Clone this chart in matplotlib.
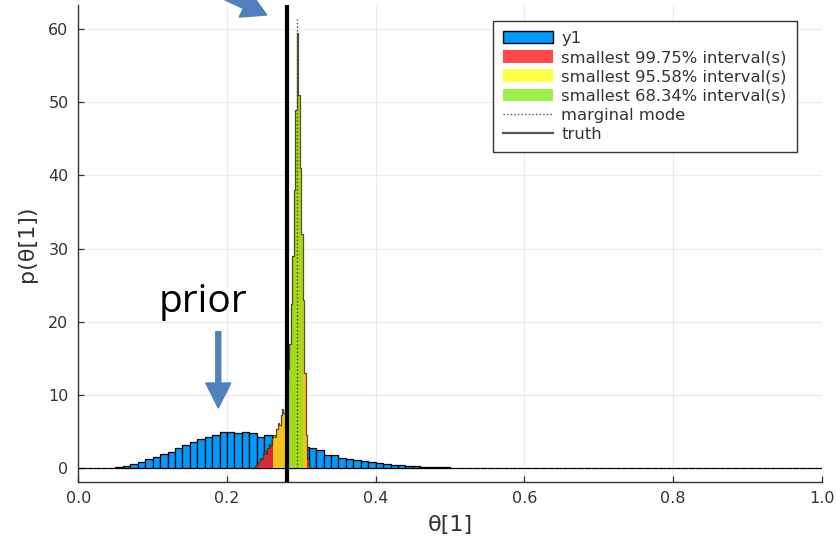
import matplotlib
matplotlib.use("Agg")
import matplotlib.pyplot as plt
import numpy as np
from matplotlib.patches import Patch, FancyArrow
from matplotlib.lines import Line2D
from matplotlib.transforms import IdentityTransform


# ==============================================
# prior histogram, bins of 0.01 from 0.0 to 1.0
prior_bin_width = 0.01
prior_heights = [
    0.0, 0.0, 0.0, 0.02, 0.06, 0.2, 0.3, 0.55, 0.86, 1.2,
    1.55, 1.9, 2.2, 2.7, 3.1, 3.6, 3.95, 4.2, 4.6, 5.0,
    4.95, 4.85, 5.0, 4.8, 4.3, 4.6, 3.8, 3.4, 3.1, 2.9,
    2.9, 2.8, 2.45, 1.8, 1.8, 1.45, 1.3, 1.15, 0.95, 0.85,
    0.7, 0.6, 0.45, 0.4, 0.3, 0.25, 0.2, 0.16, 0.12, 0.1,
    0.08, 0.05, 0.03, 0.02, 0.0, 0.0, 0.0, 0.0, 0.0, 0.0,
    0.0, 0.0, 0.0, 0.0, 0.0, 0.0, 0.0, 0.0, 0.0, 0.0,
    0.0, 0.0, 0.0, 0.0, 0.0, 0.0, 0.0, 0.0, 0.0, 0.0,
    0.0, 0.0, 0.0, 0.0, 0.0, 0.0, 0.0, 0.0, 0.0, 0.0,
    0.0, 0.0, 0.0, 0.0, 0.0, 0.0, 0.0, 0.0, 0.0, 0.0,
]

# posterior histogram, fine bins of 0.002 starting at 0.238
post_start = 0.238
post_bin_width = 0.002
post_heights = [
    0.3, 0.6, 0.9, 1.4, 1.2, 1.9, 2.3, 2.0, 2.8, 3.3,
    3.0, 4.1, 4.6, 4.3, 5.4, 6.2, 5.9, 7.3, 8.1, 7.6,
    9.6, 11.2, 13.5, 17.0, 22.5, 29.0, 38.0, 49.0, 59.5, 51.0,
    41.0, 32.0, 23.0, 13.0, 4.5, 1.2, 0.3,
]

# smallest intervals (lower, upper)
interval_68 = (0.284, 0.302)
interval_95 = (0.262, 0.308)

mode_pos, mode_height = 0.2938, 61.4
truth_pos = 0.2807

legend_labels = ["y1", "smallest 99.75% interval(s)", "smallest 95.58% interval(s)",
                 "smallest 68.34% interval(s)", "marginal mode", "truth"]

# ==============================================
blue = "#009afa"
red_fill, yellow_fill, green_fill = "#dc2a35", "#f2c31c", "#a4d91c"
red_leg, yellow_leg, green_leg = "#ff4848", "#ffff48", "#9cef48"
arrow_blue = "#4f81bd"
text_col = "#333333"

fig = plt.figure(figsize=(8.36, 5.4), dpi=100)
ax = fig.add_axes([78.3 / 836, 58.3 / 540, 743.4 / 836, 476.7 / 540])

prior_edges = np.arange(len(prior_heights)) * prior_bin_width
ax.bar(prior_edges, prior_heights, width=prior_bin_width, align="edge",
       color=blue, edgecolor="black", linewidth=0.9, zorder=2)

post_edges = post_start + np.arange(len(post_heights) + 1) * post_bin_width
post_left = post_edges[:-1]
post_colors = []
for x in post_left + post_bin_width / 2:
    if interval_68[0] <= x < interval_68[1]:
        post_colors.append(green_fill)
    elif interval_95[0] <= x < interval_95[1]:
        post_colors.append(yellow_fill)
    else:
        post_colors.append(red_fill)
ax.bar(post_left, post_heights, width=post_bin_width, align="edge",
       color=post_colors, linewidth=0, zorder=3)
ax.stairs(post_heights, post_edges, color="#3b3410", linewidth=0.9, alpha=0.85, zorder=4)

ax.plot([mode_pos, mode_pos], [0, mode_height], linestyle=(0, (1, 1.6)),
        color="#444444", linewidth=1.0, zorder=5)
ax.axvline(truth_pos, color="black", linewidth=3.0, zorder=6)

ax.set_xlim(0, 1)
ax.set_ylim(-1.85, 63.3)
ax.set_xticks(np.arange(0, 1.01, 0.2))
ax.set_xticklabels([f"{v:.1f}" for v in np.arange(0, 1.01, 0.2)])
ax.set_yticks(np.arange(0, 61, 10))
ax.grid(True, color="#ebebeb", linewidth=0.8, zorder=0)
ax.set_axisbelow(True)

for side in ["top", "right"]:
    ax.spines[side].set_visible(False)
for side in ["left", "bottom"]:
    ax.spines[side].set_color("#333333")
    ax.spines[side].set_linewidth(1.0)

ax.tick_params(direction="in", length=4, width=0.9, color="#333333",
               labelsize=11.5, labelcolor=text_col, pad=7)
ax.set_xlabel("θ[1]", fontsize=16, color=text_col, labelpad=6)
ax.set_ylabel("p(θ[1])", fontsize=16, color=text_col, labelpad=8)

handles = [
    Patch(facecolor=blue, edgecolor="black", linewidth=1.0),
    Patch(facecolor=red_leg, edgecolor="none"),
    Patch(facecolor=yellow_leg, edgecolor="none"),
    Patch(facecolor=green_leg, edgecolor="none"),
    Line2D([], [], linestyle=(0, (1, 1.6)), color="#555555", linewidth=1.0),
    Line2D([], [], color="#555555", linewidth=1.6),
]
leg = ax.legend(handles, legend_labels, loc="upper right", bbox_to_anchor=(0.9664, 0.9664),
                borderaxespad=0, fancybox=False, framealpha=1, edgecolor="#333333",
                fontsize=11.8, labelcolor=text_col, handlelength=3.05, handleheight=0.8,
                labelspacing=0.26, handletextpad=0.5, borderpad=0.6)
leg.get_frame().set_linewidth(1.0)
leg.set_zorder(10)

# slide annotations
fig.text(202.5 / 836, 228.3 / 540, "prior", fontsize=28, family="Open Sans",
         ha="center", va="baseline", color="black")
fig.patches.append(FancyArrow(218.3, 540 - 331.7, 0, -76.3, width=5, head_width=25,
                              head_length=25, length_includes_head=True,
                              color=arrow_blue, transform=IdentityTransform()))
fig.patches.append(FancyArrow(176.1, 567.3, 90.6, -42.3, width=8, head_width=27,
                              head_length=24, length_includes_head=True,
                              color=arrow_blue, transform=IdentityTransform()))

fig.savefig("out.png", dpi=100)
